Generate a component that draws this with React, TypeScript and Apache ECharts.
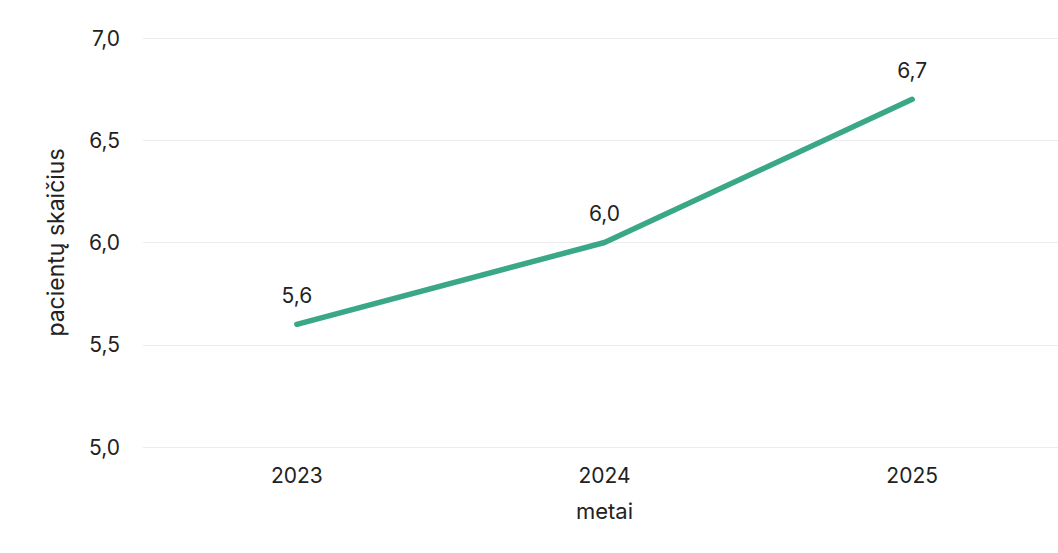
import React, { useEffect, useRef } from "react";
import * as echarts from "echarts";

const years = ["2023", "2024", "2025"];
const patients = [5.6, 6.0, 6.7];
const yTicks = { min: 5.0, max: 7.0, interval: 0.5 };
const xName = "metai";
const yName = "pacientų skaičius";

const fmt = (v: number) => v.toFixed(1).replace(".", ",");

export default function App() {
  const ref = useRef<HTMLDivElement>(null);
  useEffect(() => {
    document.body.style.margin = "0";
    const chart = echarts.init(ref.current!, undefined, { renderer: "svg" });
    const font = "Inter, 'Noto Sans', sans-serif";
    chart.setOption({
      animation: false,
      backgroundColor: "#ffffff",
      textStyle: { fontFamily: font },
      grid: { left: 143, right: 0, top: 38, bottom: 106, containLabel: false },
      xAxis: {
        type: "category",
        data: years,
        boundaryGap: true,
        name: xName,
        nameLocation: "middle",
        nameGap: 53,
        nameTextStyle: { fontSize: 22, color: "#222", fontFamily: font },
        axisLine: { show: false },
        axisTick: { show: false },
        axisLabel: { fontSize: 21, color: "#222", margin: 18, fontFamily: font },
      },
      yAxis: {
        type: "value",
        min: yTicks.min,
        max: yTicks.max,
        interval: yTicks.interval,
        name: yName,
        nameLocation: "middle",
        nameGap: 76,
        nameTextStyle: { fontSize: 23, color: "#222", fontFamily: font },
        axisLine: { show: false },
        axisTick: { show: false },
        axisLabel: { fontSize: 21, color: "#222", margin: 23, formatter: (v: number) => fmt(v), fontFamily: font },
        splitLine: { show: true, lineStyle: { color: "#ececec", width: 1 } },
      },
      series: [
        {
          type: "line",
          data: patients,
          symbol: "circle",
          symbolSize: 1,
          lineStyle: { color: "#3aa886", width: 5.5, cap: "round" },
          itemStyle: { color: "#3aa886" },
          label: {
            show: true,
            position: "top",
            distance: 18,
            fontSize: 21,
            color: "#222",
            fontFamily: font,
            formatter: (p: any) => fmt(p.value),
          },
        },
      ],
    });
    return () => chart.dispose();
  }, []);
  return (
    <div style={{ width: 1058, height: 553, overflow: "hidden", position: "relative" }}>
      <div ref={ref} style={{ width: 1066, height: 553 }} />
    </div>
  );
}
